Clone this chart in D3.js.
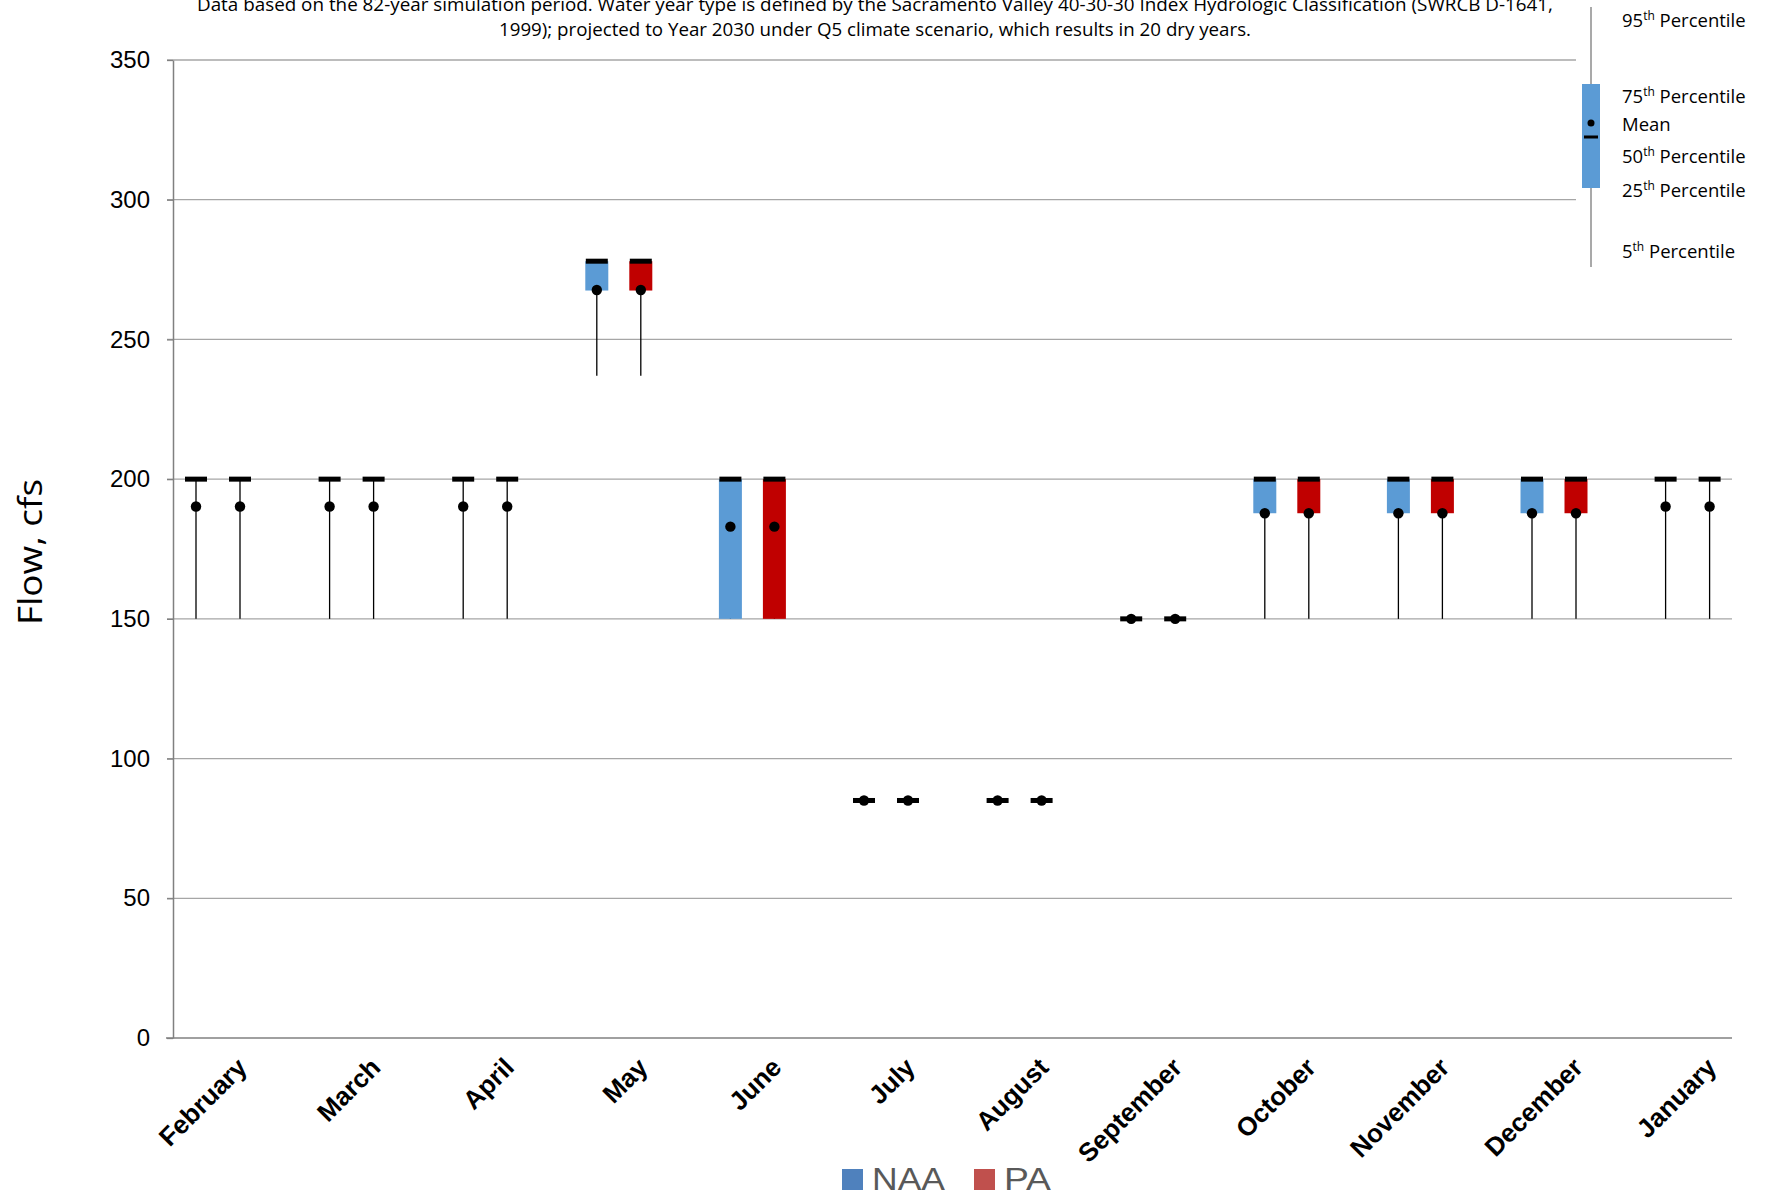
<!DOCTYPE html>
<html>
<head>
<meta charset="utf-8">
<script src="https://cdn.jsdelivr.net/npm/d3@7"></script>
<style>
  html, body { margin: 0; padding: 0; background: #fff; }
  svg { display: block; }
</style>
</head>
<body>
<svg id="chart" width="1765" height="1202"></svg>
<script>
// ---------------- data ----------------
const months = ["February","March","April","May","June","July","August","September","October","November","December","January"];
const series = ["NAA","PA"];
const yTicks = [0,50,100,150,200,250,300,350];

const naaP5   = [150,150,150,237,150,85,85,150,150,150,150,150];
const naaP25  = [200,200,200,267.5,150,85,85,150,187.8,187.8,187.8,200];
const naaP50  = [200,200,200,278,200,85,85,150,200,200,200,200];
const naaP75  = [200,200,200,278,200,85,85,150,200,200,200,200];
const naaP95  = [200,200,200,278,200,85,85,150,200,200,200,200];
const naaMean = [190.2,190.2,190.2,267.7,183,85,85,150,187.8,187.8,187.8,190.2];

const paP5   = [150,150,150,237,150,85,85,150,150,150,150,150];
const paP25  = [200,200,200,267.5,150,85,85,150,187.8,187.8,187.8,200];
const paP50  = [200,200,200,278,200,85,85,150,200,200,200,200];
const paP75  = [200,200,200,278,200,85,85,150,200,200,200,200];
const paP95  = [200,200,200,278,200,85,85,150,200,200,200,200];
const paMean = [190.2,190.2,190.2,267.7,183,85,85,150,187.8,187.8,187.8,190.2];

const titleLines = [
  "Data based on the 82-year simulation period.  Water year type is defined by the Sacramento Valley 40-30-30 Index Hydrologic Classification (SWRCB D-1641,",
  "1999); projected to Year 2030 under Q5 climate scenario, which results in 20 dry years."
];
const legendLabels = [
  ["95","th"," Percentile"],
  ["75","th"," Percentile"],
  ["Mean","",""],
  ["50","th"," Percentile"],
  ["25","th"," Percentile"],
  ["5","th"," Percentile"]
];

// ---------------- build ----------------
const boxColor = {NAA: "#5B9BD5", PA: "#C00000"};
const legColor = {NAA: "#4F81BD", PA: "#C0504D"};

const rows = [];
months.forEach((m, i) => {
  rows.push({month: m, s: "NAA", p5: naaP5[i], p25: naaP25[i], p50: naaP50[i], p75: naaP75[i], p95: naaP95[i], mean: naaMean[i]});
  rows.push({month: m, s: "PA", p5: paP5[i], p25: paP25[i], p50: paP50[i], p75: paP75[i], p95: paP95[i], mean: paMean[i]});
});

const svg = d3.select("#chart");
const axisX = 173, plotRight = 1732;
const y = d3.scaleLinear().domain([0, 350]).range([1038, 60]);
const x = d3.scaleBand().domain(months).range([151.2, 151.2 + 12 * 133.6]).paddingInner(0).paddingOuter(0);
const xs = d3.scaleBand().domain(series).range([-44, 44]);
const boxW = 23;
const cx = d => x(d.month) + x.bandwidth() / 2 + xs(d.s) + xs.bandwidth() / 2;

// title
svg.append("g").selectAll("text").data(titleLines).join("text")
  .attr("x", 875).attr("y", (d, i) => 11 + i * 25)
  .attr("text-anchor", "middle")
  .attr("font-family", "'Liberation Sans Narrow', 'Open Sans', sans-serif")
  .attr("font-size", 18).attr("fill", "#000")
  .attr("textLength", (d, i) => i === 0 ? 1356 : 752)
  .attr("lengthAdjust", "spacingAndGlyphs")
  .text(d => d);

// gridlines
svg.append("g").selectAll("line").data(yTicks.filter(v => v > 0)).join("line")
  .attr("x1", axisX - 6).attr("x2", plotRight)
  .attr("y1", d => y(d)).attr("y2", d => y(d))
  .attr("stroke", "#a6a6a6").attr("stroke-width", 1.3);

// y axis
const yAxis = svg.append("g").attr("transform", `translate(${axisX},0)`)
  .call(d3.axisLeft(y).tickValues(yTicks).tickSize(6).tickPadding(17).tickSizeOuter(0));
yAxis.select(".domain").attr("stroke", "#808080").attr("stroke-width", 1.5);
yAxis.selectAll(".tick line").attr("stroke", "#808080").attr("stroke-width", 1.3);
yAxis.selectAll(".tick text").attr("font-family", "'Liberation Sans', Arial, sans-serif")
  .attr("font-size", 24).attr("fill", "#000");

// x axis line
svg.append("line").attr("x1", axisX - 7).attr("x2", plotRight)
  .attr("y1", y(0)).attr("y2", y(0)).attr("stroke", "#808080").attr("stroke-width", 1.5);

// x labels
svg.append("g").selectAll("text").data(months).join("text")
  .attr("transform", d => `translate(${x(d) + x.bandwidth() / 2 + 30.5},${1069}) rotate(-45)`)
  .attr("text-anchor", "end")
  .attr("font-family", "'Liberation Sans', Arial, sans-serif")
  .attr("font-weight", "bold").attr("font-size", 26).attr("fill", "#000")
  .text(d => d);

// y label
svg.append("text")
  .attr("transform", "translate(42,552) rotate(-90)")
  .attr("text-anchor", "middle")
  .attr("font-family", "'Liberation Sans Narrow', 'Open Sans', sans-serif")
  .attr("font-size", 33).attr("fill", "#000")
  .attr("textLength", 146).attr("lengthAdjust", "spacingAndGlyphs")
  .text("Flow, cfs");

// marks
const marks = svg.append("g");
marks.selectAll(".whisker").data(rows).join("line").attr("class", "whisker")
  .attr("x1", cx).attr("x2", cx)
  .attr("y1", d => y(d.p5)).attr("y2", d => y(d.p95))
  .attr("stroke", "#000").attr("stroke-width", 1.3);
marks.selectAll(".box").data(rows).join("rect").attr("class", "box")
  .attr("x", d => cx(d) - boxW / 2).attr("width", boxW)
  .attr("y", d => y(d.p75)).attr("height", d => y(d.p25) - y(d.p75))
  .attr("fill", d => boxColor[d.s]);
marks.selectAll(".median").data(rows).join("rect").attr("class", "median")
  .attr("x", d => cx(d) - boxW / 2 + 0.5).attr("width", boxW - 1)
  .attr("y", d => y(d.p50) - 2.5).attr("height", 5)
  .attr("fill", "#000");
marks.selectAll(".mean").data(rows).join("circle").attr("class", "mean")
  .attr("cx", cx).attr("cy", d => y(d.mean)).attr("r", 5.2)
  .attr("fill", "#000");

// key legend (top right)
const key = svg.append("g");
key.append("rect").attr("x", 1576).attr("y", 0).attr("width", 189).attr("height", 272).attr("fill", "#fff");
key.append("line").attr("x1", 1591).attr("x2", 1591).attr("y1", 7).attr("y2", 267)
  .attr("stroke", "#8c8c8c").attr("stroke-width", 1.5);
key.append("rect").attr("x", 1582).attr("y", 84).attr("width", 18).attr("height", 104).attr("fill", "#5B9BD5");
key.append("circle").attr("cx", 1591).attr("cy", 123).attr("r", 3.5).attr("fill", "#000");
key.append("rect").attr("x", 1584).attr("y", 135.5).attr("width", 14).attr("height", 3).attr("fill", "#000");
const keyY = [27, 103, 131, 163, 197, 258];
const kt = key.selectAll(".kt").data(legendLabels).join("text").attr("class", "kt")
  .attr("x", 1622).attr("y", (d, i) => keyY[i])
  .attr("font-family", "'Open Sans', sans-serif").attr("font-size", 18.5).attr("fill", "#000");
kt.append("tspan").text(d => d[0]);
kt.append("tspan").attr("font-size", 12).attr("dy", -7.5).text(d => d[1]);
kt.append("tspan").attr("dy", d => d[1] ? 7.5 : 0).text(d => d[2]);

// series legend (bottom)
const legX = {NAA: 842, PA: 974};
const legW = {NAA: 73, PA: 47};
const lg = svg.append("g").selectAll("g").data(series).join("g");
lg.append("rect").attr("x", d => legX[d]).attr("y", 1169).attr("width", 21).attr("height", 21)
  .attr("fill", d => legColor[d]);
lg.append("text").attr("x", d => legX[d] + 30).attr("y", 1190)
  .attr("font-family", "'Liberation Sans', Arial, sans-serif").attr("font-size", 31)
  .attr("fill", "#595959")
  .attr("textLength", d => legW[d]).attr("lengthAdjust", "spacingAndGlyphs")
  .text(d => d);
</script>
</body>
</html>
